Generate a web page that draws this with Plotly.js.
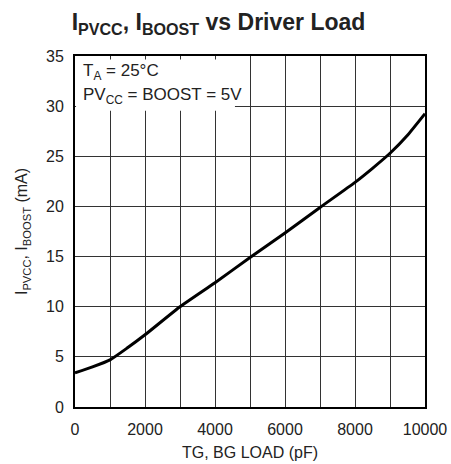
<!DOCTYPE html>
<html>
<head>
<meta charset="utf-8">
<script src="https://cdn.plot.ly/plotly-3.0.1.min.js"></script>
<style>html,body{margin:0;padding:0;background:#fff;}#chart{width:451px;height:464px;}</style>
</head>
<body>
<div id="chart"></div>
<script>
var loadPF = [0, 500, 1000, 1500, 2000, 3000, 4000, 5000, 6000, 7000, 8000, 8500, 9000, 9500, 10000];
var currentMA = [3.4, 4.0, 4.7, 5.9, 7.2, 10.0, 12.4, 14.9, 17.35, 19.9, 22.4, 23.8, 25.3, 27.1, 29.25];
var xTickVals = [0, 2000, 4000, 6000, 8000, 10000];
var yTickVals = [0, 5, 10, 15, 20, 25, 30, 35];

var FONT = "'Liberation Sans Narrow', 'Arial Narrow', 'Liberation Sans', sans-serif";

var trace = {
  x: loadPF, y: currentMA, type: 'scatter', mode: 'lines',
  line: {color: '#000', width: 3, shape: 'spline', smoothing: 0.5},
  hoverinfo: 'skip'
};

var layout = {
  width: 451, height: 464,
  margin: {l: 75, r: 26, t: 56, b: 57},
  paper_bgcolor: '#fff', plot_bgcolor: '#fff',
  showlegend: false,
  font: {family: FONT, color: '#222', size: 16},
  title: {
    text: '<b>I<sub>PVCC</sub>, I<sub>BOOST</sub> vs Driver Load</b>',
    font: {family: FONT, size: 23, color: '#222'},
    xref: 'paper', x: 0.41, xanchor: 'center',
    yref: 'container', y: 0.952, yanchor: 'middle'
  },
  xaxis: {
    range: [0, 10000], tickvals: xTickVals, ticktext: xTickVals.map(String),
    showgrid: true, gridcolor: '#333', gridwidth: 1,
    minor: {dtick: 1000, showgrid: true, gridcolor: '#333', gridwidth: 1, ticks: ''},
    showline: true, linecolor: '#000', linewidth: 2, mirror: true,
    ticks: '', zeroline: false, fixedrange: true, ticklabelstandoff: 7,
    tickfont: {family: FONT, size: 16, color: '#222'},
    title: {text: 'TG, BG LOAD (pF)', font: {family: FONT, size: 16, color: '#222'}, standoff: 10}
  },
  yaxis: {
    range: [0, 35], tickvals: yTickVals,
    showgrid: true, gridcolor: '#333', gridwidth: 1,
    showline: true, linecolor: '#000', linewidth: 2, mirror: true,
    ticks: '', zeroline: false, fixedrange: true, ticklabelstandoff: 6,
    tickfont: {family: FONT, size: 16, color: '#222'},
    title: {text: 'I<sub>PVCC</sub>, I<sub>BOOST</sub> (mA)', font: {family: FONT, size: 16, color: '#222'}, standoff: 14}
  },
  shapes: [{
    type: 'rect', xref: 'x', yref: 'y', x0: 30, x1: 4570, y0: 29.55, y1: 34.65,
    fillcolor: '#fff', line: {width: 0}, layer: 'between'
  }],
  annotations: [
    {xref: 'paper', yref: 'paper', x: 0.018, y: 0.955, xanchor: 'left', yanchor: 'middle',
     text: 'T<sub>A</sub> = 25°C', showarrow: false, font: {family: FONT, size: 17, color: '#222'}},
    {xref: 'paper', yref: 'paper', x: 0.018, y: 0.885, xanchor: 'left', yanchor: 'middle',
     text: 'PV<sub>CC</sub> = BOOST = 5V', showarrow: false, font: {family: FONT, size: 17, color: '#222'}}
  ]
};

Plotly.newPlot('chart', [trace], layout, {displayModeBar: false, staticPlot: true});
</script>
</body>
</html>
